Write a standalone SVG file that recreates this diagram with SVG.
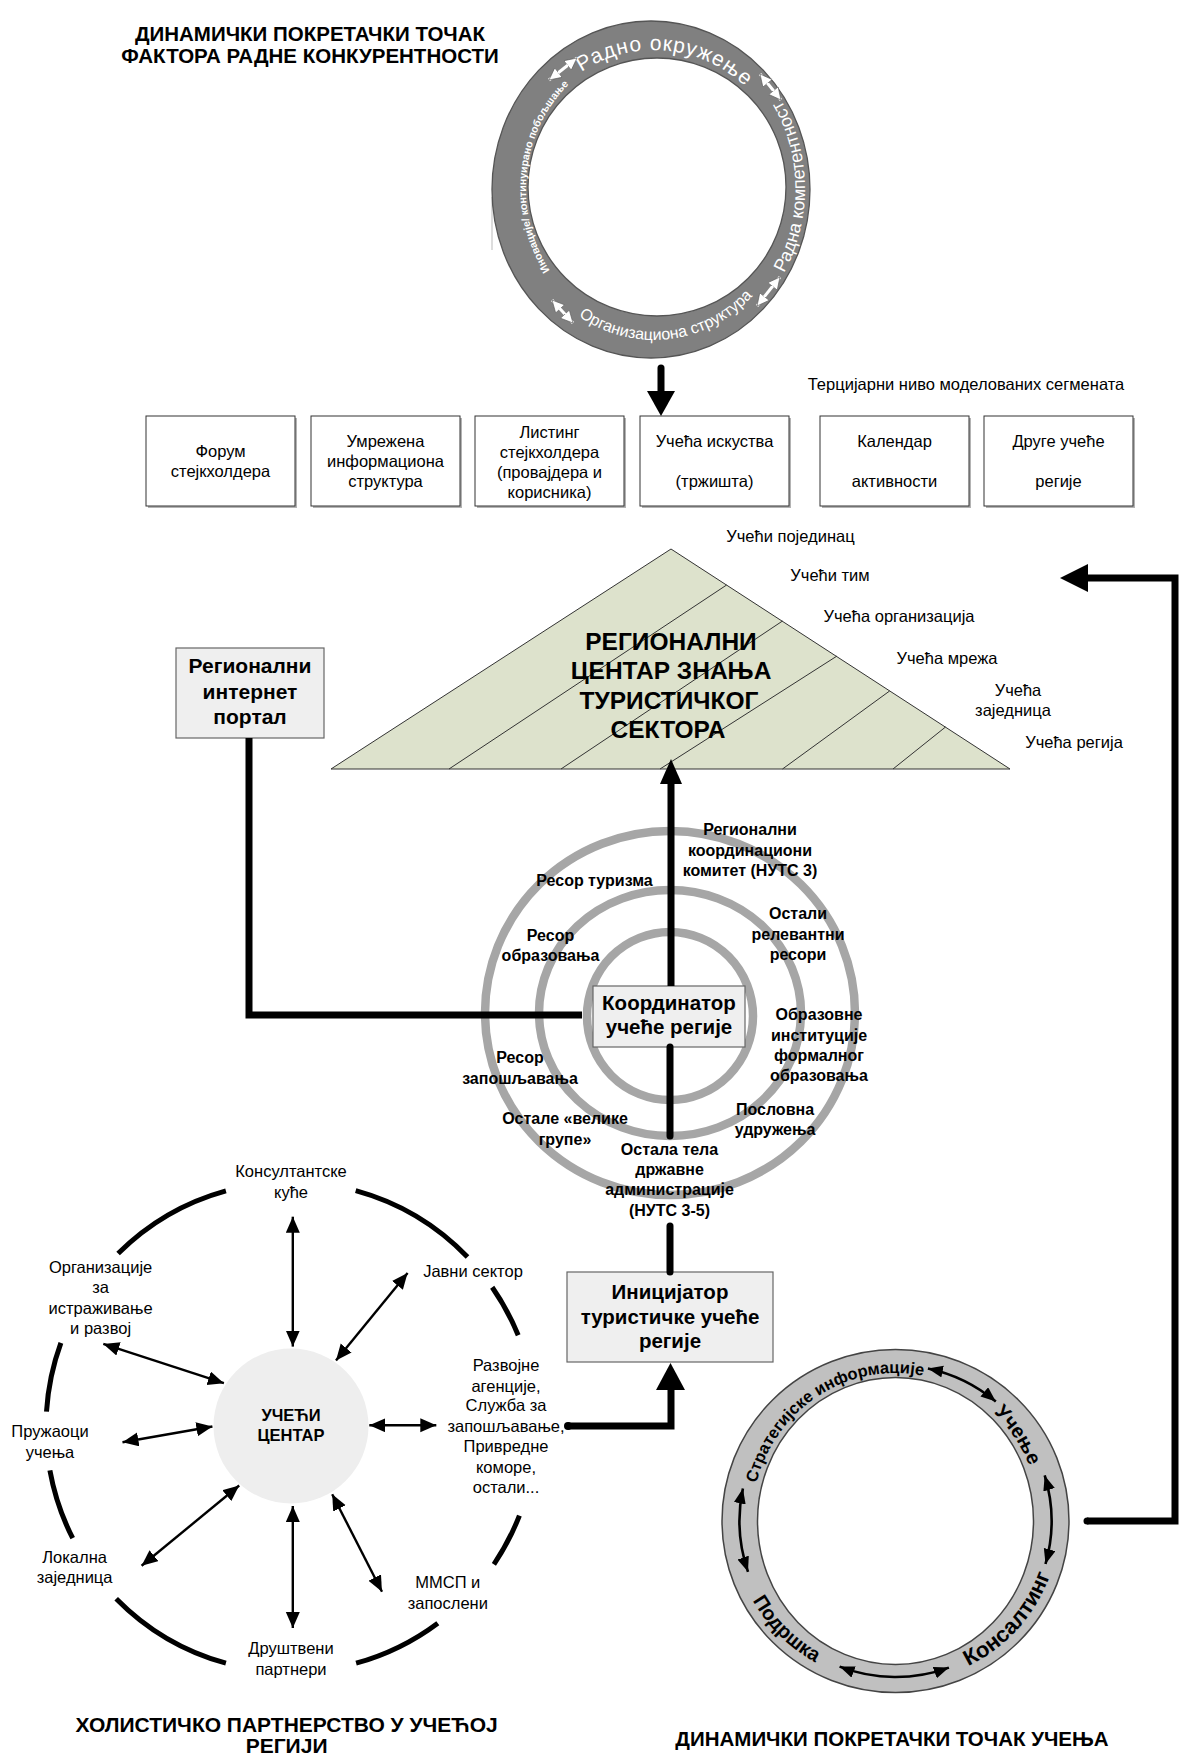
<svg xmlns="http://www.w3.org/2000/svg" width="1181" height="1757" viewBox="0 0 1181 1757">
<style>
  text { font-family: "Liberation Sans", Arial, sans-serif; fill: #000; }
  .ttl { font-size: 20.5px; font-weight: bold; text-anchor: middle; }
  .lbl { font-size: 16.5px; text-anchor: middle; }
  .cl { font-size: 16px; font-weight: bold; text-anchor: middle; }
  .gt { font-size: 20.5px; font-weight: bold; text-anchor: middle; }
  .box { fill: #fff; stroke: #333; stroke-width: 1; }
  .shd { fill: #b3b3b3; }
  .gbox { fill: #efefef; stroke: #666; stroke-width: 1.2; }
  .thick { fill: none; stroke: #000; stroke-width: 7; stroke-linejoin: miter; }
  .conc { fill: none; stroke: #a6a6a6; stroke-width: 8.5; }
  .arcs { fill: none; stroke: #000; stroke-width: 5; }
  .dbl { fill: none; stroke: #000; stroke-width: 2.4; marker-start: url(#ah); marker-end: url(#ah); }
  .wdbl { fill: none; stroke: #fff; stroke-width: 3; marker-start: url(#ahw); marker-end: url(#ahw); }
  .rdbl { fill: none; stroke: #000; stroke-width: 2.6; marker-start: url(#ahr); marker-end: url(#ahr); }
  .wring { fill: #fff; }
  .pyl { fill: none; stroke: #333; stroke-width: 1; }
</style>
<defs>
  <marker id="ah" markerUnits="userSpaceOnUse" markerWidth="18" markerHeight="15" refX="16" refY="7" orient="auto-start-reverse">
    <path d="M0,0 L16,7 L0,14 Z" fill="#000"/>
  </marker>
  <marker id="ahw" markerUnits="userSpaceOnUse" markerWidth="14" markerHeight="13" refX="12" refY="6" orient="auto-start-reverse">
    <path d="M0,0 L12,6 L0,12 Z" fill="#fff" stroke="#555" stroke-width="0.6"/>
  </marker>
  <marker id="ahr" markerUnits="userSpaceOnUse" markerWidth="17" markerHeight="13" refX="15" refY="6" orient="auto-start-reverse">
    <path d="M0,0 L15,6 L0,12 Z" fill="#000"/>
  </marker>
  <!-- text baselines on the upper wheel -->
  <path id="wTop" d="M531.7,130.2 A135,139 0 0 1 784.4,153"/>
  <path id="wRight" d="M766.2,299.4 A151,165 0 0 0 762.6,74.4"/>
  <path id="wLeft" d="M561.2,285.4 A128,140 0 0 1 583.3,72.2"/>
  <path id="wBottom" d="M546.8,286.1 A140,151 0 0 0 777.6,259.9"/>
  <!-- text baselines on the lower wheel -->
  <path id="lStrat" d="M753.7,1495.3 A144,148 0 0 1 935.2,1378.7"/>
  <path id="lUc" d="M967.5,1392.8 A144,148 0 0 1 1037.8,1497.8"/>
  <path id="lPod" d="M741.4,1576.4 A164,162 0 0 0 839.4,1673.3"/>
  <path id="lKon" d="M946.2,1675.1 A164,162 0 0 0 1056.5,1551.9"/>
</defs>

<rect width="1181" height="1757" fill="#fff"/>

<!-- upper wheel: working competitiveness -->
<g id="wheel-work">
  <text class="ttl" x="310" y="40.5">ДИНАМИЧКИ ПОКРЕТАЧКИ ТОЧАК</text>
  <text class="ttl" x="310" y="62.5">ФАКТОРА РАДНЕ КОНКУРЕНТНОСТИ</text>
  <line x1="492" y1="197" x2="492" y2="250" stroke="#bbb" stroke-width="1"/>
  <path d="M651,21 A159,168.5 0 1 1 651,358 A159,168.5 0 1 1 651,21 Z M657,58 A129,129 0 1 0 657,316 A129,129 0 1 0 657,58 Z" fill="#808080" fill-rule="evenodd" stroke="#555" stroke-width="1.3"/>
  <text class="wring" font-size="21" letter-spacing="1"><textPath href="#wTop" startOffset="50%" text-anchor="middle">Радно окружење</textPath></text>
  <text class="wring" font-size="18"><textPath href="#wRight" startOffset="50%" text-anchor="middle">Радна компетентност</textPath></text>
  <text class="wring" font-size="10.5" font-weight="bold"><textPath href="#wLeft" startOffset="50%" text-anchor="middle">Иновације/ континуирано побољшање</textPath></text>
  <text class="wring" font-size="16"><textPath href="#wBottom" startOffset="50%" text-anchor="middle">Организациона структура</textPath></text>
  <path class="wdbl" d="M549,80 L577,58"/>
  <path class="wdbl" d="M760,74 L781,100"/>
  <path class="wdbl" d="M757,306 L780,277"/>
  <path class="wdbl" d="M552,300 L573,323"/>
</g>

<!-- tertiary level segments -->
<g id="tertiary">
  <text class="lbl" x="966" y="390">Терцијарни ниво моделованих сегмената</text>
</g>
<g id="seg-forum">
  <rect class="shd" x="148" y="418" width="149" height="90"/>
  <rect class="box" x="146" y="416" width="149" height="90"/>
  <text class="lbl" x="220.5" y="457">Форум</text>
  <text class="lbl" x="220.5" y="477">стејкхолдера</text>
</g>
<g id="seg-network">
  <rect class="shd" x="313" y="418" width="149" height="90"/>
  <rect class="box" x="311" y="416" width="149" height="90"/>
  <text class="lbl" x="385.5" y="447">Умрежена</text>
  <text class="lbl" x="385.5" y="467">информациона</text>
  <text class="lbl" x="385.5" y="487">структура</text>
</g>
<g id="seg-listing">
  <rect class="shd" x="477" y="418" width="149" height="90"/>
  <rect class="box" x="475" y="416" width="149" height="90"/>
  <text class="lbl" x="549.5" y="438">Листинг</text>
  <text class="lbl" x="549.5" y="458">стејкхолдера</text>
  <text class="lbl" x="549.5" y="478">(провајдера и</text>
  <text class="lbl" x="549.5" y="498">корисника)</text>
</g>
<g id="seg-experience">
  <rect class="shd" x="642" y="418" width="149" height="90"/>
  <rect class="box" x="640" y="416" width="149" height="90"/>
  <text class="lbl" x="714.5" y="447">Учећа искуства</text>
  <text class="lbl" x="714.5" y="487">(тржишта)</text>
</g>
<g id="seg-calendar">
  <rect class="shd" x="822" y="418" width="149" height="90"/>
  <rect class="box" x="820" y="416" width="149" height="90"/>
  <text class="lbl" x="894.5" y="447">Календар</text>
  <text class="lbl" x="894.5" y="487">активности</text>
</g>
<g id="seg-regions">
  <rect class="shd" x="986" y="418" width="149" height="90"/>
  <rect class="box" x="984" y="416" width="149" height="90"/>
  <text class="lbl" x="1058.5" y="447">Друге учеће</text>
  <text class="lbl" x="1058.5" y="487">регије</text>
</g>

<!-- knowledge pyramid -->
<g id="pyramid">
  <polygon points="671,549 331,769 1010,769" fill="#dde2cc" stroke="#333" stroke-width="1"/>
  <path class="pyl" d="M726.6,585 L449,769 M782.5,621 L561,769 M837,656 L660,769 M889.6,691 L782.5,769 M945.5,727 L893,769"/>
  <text class="gt" x="671" y="650" style="font-size:24.5px">РЕГИОНАЛНИ</text>
  <text class="gt" x="671" y="679" style="font-size:24.5px">ЦЕНТАР ЗНАЊА</text>
  <text class="gt" x="669" y="709" style="font-size:24.5px">ТУРИСТИЧКОГ</text>
  <text class="gt" x="668" y="738" style="font-size:24.5px">СЕКТОРА</text>
  <text class="lbl" x="790.5" y="542">Учећи појединац</text>
  <text class="lbl" x="830" y="580.5">Учећи тим</text>
  <text class="lbl" x="899" y="622">Учећа организација</text>
  <text class="lbl" x="947" y="664">Учећа мрежа</text>
  <text class="lbl" x="1018" y="695.5">Учећа</text>
  <text class="lbl" x="1013" y="716">заједница</text>
  <text class="lbl" x="1074" y="748">Учећа регија</text>
</g>

<g id="portal">
  <rect class="gbox" x="176" y="648" width="148" height="90"/>
  <text class="gt" x="250" y="673" style="font-size:21px">Регионални</text>
  <text class="gt" x="250" y="699" style="font-size:21px">интернет</text>
  <text class="gt" x="250" y="724" style="font-size:21px">портал</text>
</g>

<!-- concentric stakeholder rings -->
<g id="stakeholder-rings">
  <ellipse class="conc" cx="670" cy="1013" rx="185" ry="182"/>
  <ellipse class="conc" cx="670" cy="1013" rx="131" ry="123"/>
  <ellipse class="conc" cx="670" cy="1016" rx="83" ry="84"/>
  <text class="cl" x="750" y="835">Регионални</text>
  <text class="cl" x="750" y="856">координациони</text>
  <text class="cl" x="750" y="876">комитет (НУТС 3)</text>
  <text class="cl" x="594.5" y="886">Ресор туризма</text>
  <text class="cl" x="550.5" y="941">Ресор</text>
  <text class="cl" x="550.5" y="961">образовања</text>
  <text class="cl" x="798" y="919">Остали</text>
  <text class="cl" x="798" y="940">релевантни</text>
  <text class="cl" x="798" y="960">ресори</text>
  <text class="cl" x="819" y="1020">Образовне</text>
  <text class="cl" x="819" y="1041">институције</text>
  <text class="cl" x="819" y="1061">формалног</text>
  <text class="cl" x="819" y="1081">образовања</text>
  <text class="cl" x="520" y="1063">Ресор</text>
  <text class="cl" x="520" y="1084">запошљавања</text>
  <text class="cl" x="775" y="1115">Пословна</text>
  <text class="cl" x="775" y="1135">удружења</text>
  <text class="cl" x="565" y="1124">Остале «велике</text>
  <text class="cl" x="565" y="1145">групе»</text>
  <text class="cl" x="669.5" y="1155">Остала тела</text>
  <text class="cl" x="669.5" y="1175">државне</text>
  <text class="cl" x="669.5" y="1195">администрације</text>
  <text class="cl" x="669.5" y="1216">(НУТС 3-5)</text>
</g>

<g id="coordinator">
  <rect class="gbox" x="593" y="986" width="152" height="61"/>
  <text class="gt" x="669" y="1010">Координатор</text>
  <text class="gt" x="669" y="1034">учеће регије</text>
</g>

<g id="initiator">
  <rect class="gbox" x="567" y="1272" width="206" height="90"/>
  <text class="gt" x="670" y="1299">Иницијатор</text>
  <text class="gt" x="670" y="1323.5">туристичке учеће</text>
  <text class="gt" x="670" y="1348">регије</text>
</g>

<!-- holistic partnership -->
<g id="partnership">
  <path class="arcs" d="M118.1,1253.5 A245,245 0 0 1 225.9,1190.8 M355.7,1190.7 A245,245 0 0 1 467.5,1257.1 M492.2,1287.2 A245,245 0 0 1 518.2,1335.2 M519.4,1515.6 A245,245 0 0 1 493.9,1564.3 M437.8,1623.2 A245,245 0 0 1 356.1,1663.2 M225.9,1663.2 A245,245 0 0 1 116.2,1598.7 M72.7,1538.2 A245,245 0 0 1 49.9,1470.4 M46.5,1411.6 A245,245 0 0 1 60.9,1342.8"/>
  <text class="lbl" x="291" y="1177">Консултантске</text>
  <text class="lbl" x="291" y="1198">куће</text>
  <text class="lbl" x="100.6" y="1273">Организације</text>
  <text class="lbl" x="100.6" y="1293">за</text>
  <text class="lbl" x="100.6" y="1313.5">истраживање</text>
  <text class="lbl" x="100.6" y="1333.5">и развој</text>
  <text class="lbl" x="473" y="1277">Јавни сектор</text>
  <text class="lbl" x="506" y="1371">Развојне</text>
  <text class="lbl" x="506" y="1391.5">агенције,</text>
  <text class="lbl" x="506" y="1411">Служба за</text>
  <text class="lbl" x="506" y="1432">запошљавање,</text>
  <text class="lbl" x="506" y="1452">Привредне</text>
  <text class="lbl" x="506" y="1472.5">коморе,</text>
  <text class="lbl" x="506" y="1493">остали...</text>
  <text class="lbl" x="50" y="1437">Пружаоци</text>
  <text class="lbl" x="50" y="1457.5">учења</text>
  <text class="lbl" x="74.6" y="1563">Локална</text>
  <text class="lbl" x="74.6" y="1583">заједница</text>
  <text class="lbl" x="291" y="1654">Друштвени</text>
  <text class="lbl" x="291" y="1675">партнери</text>
  <text class="lbl" x="447.8" y="1588">ММСП и</text>
  <text class="lbl" x="447.8" y="1609">запослени</text>
  <text class="ttl" x="286.6" y="1732" style="font-size:21px">ХОЛИСТИЧКО ПАРТНЕРСТВО У УЧЕЋОЈ</text>
  <text class="ttl" x="286.6" y="1753" style="font-size:21px">РЕГИЈИ</text>
</g>
<g id="learning-centre">
  <circle cx="291" cy="1426" r="77.5" fill="#eeeeee"/>
  <text class="gt" x="291" y="1421" style="font-size:16.5px">УЧЕЋИ</text>
  <text class="gt" x="291" y="1441" style="font-size:16.5px">ЦЕНТАР</text>
</g>

<!-- lower wheel: learning -->
<g id="wheel-learning">
  <path d="M895.5,1349.5 A173.5,171.5 0 1 1 895.5,1692.5 A173.5,171.5 0 1 1 895.5,1349.5 Z M895.5,1377.5 A138,143.5 0 1 0 895.5,1664.5 A138,143.5 0 1 0 895.5,1377.5 Z" fill="#c0c0c0" fill-rule="evenodd" stroke="#444" stroke-width="1.5"/>
  <text font-size="16.5" font-weight="bold"><textPath href="#lStrat" startOffset="50%" text-anchor="middle">Стратегијске информације</textPath></text>
  <text font-size="20" font-weight="bold"><textPath href="#lUc" startOffset="50%" text-anchor="middle">Учење</textPath></text>
  <text font-size="20" font-weight="bold"><textPath href="#lPod" startOffset="50%" text-anchor="middle">Подршка</textPath></text>
  <text font-size="22" font-weight="bold"><textPath href="#lKon" startOffset="50%" text-anchor="middle">Консалтинг</textPath></text>
  <path class="rdbl" d="M927.9,1368.4 A156,156 0 0 1 995.8,1401.5"/>
  <path class="rdbl" d="M1044.7,1475.4 A156,156 0 0 1 1045.5,1564"/>
  <path class="rdbl" d="M948.9,1667.6 A156,156 0 0 1 839.6,1666.6"/>
  <path class="rdbl" d="M748,1571.8 A156,156 0 0 1 742.9,1488.6"/>
  <text class="ttl" x="892" y="1746">ДИНАМИЧКИ ПОКРЕТАЧКИ ТОЧАК УЧЕЊА</text>
</g>

<!-- connectors -->
<g id="connectors">
  <path class="thick" d="M661,368 V393" stroke-linecap="round"/>
  <polygon points="647,391 675,391 661,416" fill="#000"/>
  <path class="thick" d="M671,986 V782" stroke-width="6.5"/>
  <polygon points="660,784 682,784 671,759" fill="#000"/>
  <path class="thick" d="M249,738 V1015 H582" stroke-width="6.5"/>
  <path class="thick" d="M670,1047 V1136" stroke-width="6.5" stroke-linecap="round"/>
  <path class="thick" d="M670,1226 V1272" stroke-width="6.5" stroke-linecap="round"/>
  <path class="thick" d="M568,1426 H671 V1390" stroke-width="8"/>
  <circle cx="568" cy="1426" r="4" fill="#000"/>
  <polygon points="656,1390 685,1390 670.5,1363" fill="#000"/>
  <path class="thick" d="M1087,1521 H1175 V578 H1086"/>
  <circle cx="1087" cy="1521" r="3.5" fill="#000"/>
  <polygon points="1088,564 1088,592 1060,578" fill="#000"/>
  <path class="dbl" d="M292.8,1216.7 V1346.6"/>
  <path class="dbl" d="M407.6,1273 L336,1360.4"/>
  <path class="dbl" d="M103.3,1343.9 L223.9,1383.2"/>
  <path class="dbl" d="M122.5,1442.2 L212.4,1426.5"/>
  <path class="dbl" d="M369.3,1425.3 H436.3"/>
  <path class="dbl" d="M141.6,1565.8 L239.2,1485.5"/>
  <path class="dbl" d="M292.8,1506 V1628"/>
  <path class="dbl" d="M332.2,1494.2 L382,1591.8"/>
</g>
</svg>
